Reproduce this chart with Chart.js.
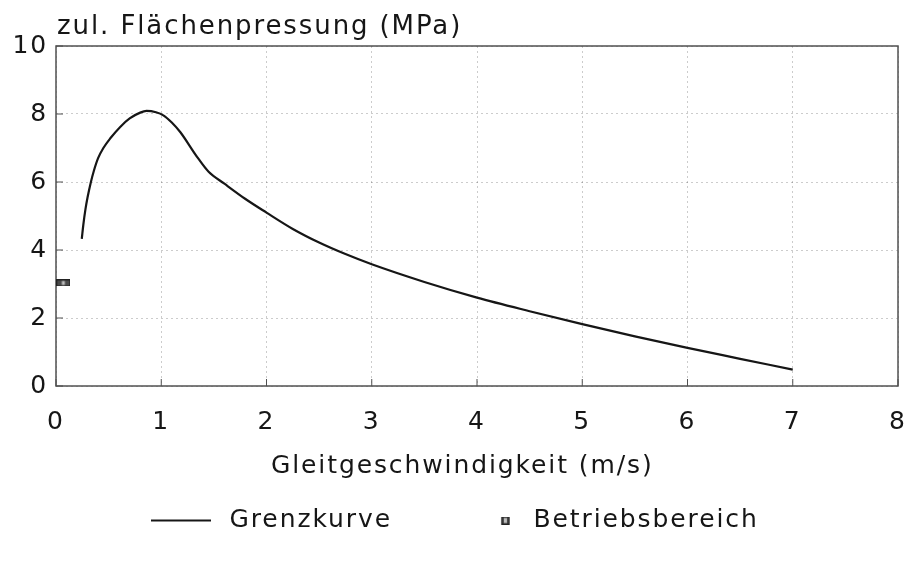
<!DOCTYPE html>
<html lang="de">
<head>
<meta charset="UTF-8">
<title>Grenzkurve</title>
<style>
  html, body { margin: 0; padding: 0; background: #fff; }
  #wrap { width: 912px; height: 562px; }
</style>
<script src="https://cdn.jsdelivr.net/npm/chart.js"></script>
</head>
<body>
<div id="wrap"><canvas id="chart" width="912" height="562"></canvas></div>
<script>
// Grenzkurve: zul. Flächenpressung über Gleitgeschwindigkeit
const speed = [0.245, 0.26, 0.28, 0.30, 0.33, 0.36, 0.40, 0.45, 0.52, 0.61, 0.70, 0.80, 0.86, 0.95, 1.02, 1.1, 1.18, 1.34, 1.45, 1.6, 1.8, 2.0, 2.25, 2.5, 2.75, 3.0, 3.5, 4.0, 4.5, 5.0, 5.5, 6.0, 6.5, 7.0];
const pressure = [4.33, 4.75, 5.2, 5.55, 5.98, 6.33, 6.7, 7.0, 7.3, 7.62, 7.87, 8.04, 8.09, 8.05, 7.96, 7.75, 7.47, 6.74, 6.3, 5.95, 5.5, 5.1, 4.62, 4.22, 3.88, 3.58, 3.06, 2.6, 2.2, 1.82, 1.46, 1.12, 0.8, 0.48];
// Betriebsbereich
const opSpeed = [0.07];
const opPressure = [3.03];

const xTicks = [0, 1, 2, 3, 4, 5, 6, 7, 8];
const yTicks = [0, 2, 4, 6, 8, 10];

const FONT = "'DejaVu Sans', 'Liberation Sans', sans-serif";
const INK = '#161616';
const SPACING = '1.9px';
const SLOT = 117;

// small marker pictures
function makeLineIcon() {
    const c = document.createElement('canvas');
    c.width = SLOT; c.height = 4;
    const g = c.getContext('2d');
    g.fillStyle = INK;
    g.fillRect(SLOT - 66, 1, 60, 2);
    return c;
}
function makeBox(w, h, padLeft, total) {
    const c = document.createElement('canvas');
    c.width = total || w; c.height = h;
    const g = c.getContext('2d');
    const x0 = padLeft || 0;
    g.fillStyle = '#4a4a4a';
    g.fillRect(x0, 0, w, h);
    g.fillStyle = '#bdbdbd';
    g.fillRect(x0 + w / 2 - 1.5, 1.5, 3, h - 3);
    g.strokeStyle = '#222';
    g.lineWidth = 1;
    g.strokeRect(x0 + 0.5, 0.5, w - 1, h - 1);
    return c;
}
const lineIcon = makeLineIcon();
const boxLegend = makeBox(8, 8, SLOT - 19.5, SLOT);
const boxPoint = makeBox(14, 7);

const frame = {
    id: 'frame',
    beforeLayout(chart) { chart.ctx.letterSpacing = SPACING; },
    beforeDraw(chart) { chart.ctx.letterSpacing = SPACING; },
    beforeDatasetsDraw(chart) {
        const {ctx, chartArea: a, scales} = chart;
        ctx.save();
        ctx.strokeStyle = '#505050';
        ctx.lineWidth = 1.5;
        ctx.strokeRect(a.left, a.top, a.right - a.left, a.bottom - a.top);
        // short inward ticks
        ctx.lineWidth = 1;
        xTicks.forEach(v => {
            const x = scales.x.getPixelForValue(v);
            ctx.beginPath(); ctx.moveTo(x, a.bottom); ctx.lineTo(x, a.bottom - 7); ctx.stroke();
        });
        yTicks.forEach(v => {
            const y = scales.y.getPixelForValue(v);
            ctx.beginPath(); ctx.moveTo(a.left, y); ctx.lineTo(a.left + 7, y); ctx.stroke();
        });
        ctx.restore();
    },
    afterDraw(chart) {
        const {ctx, chartArea: a} = chart;
        ctx.save();
        ctx.fillStyle = INK;
        ctx.font = '26px ' + FONT;
        ctx.textBaseline = 'alphabetic';
        ctx.fillText('zul. Flächenpressung (MPa)', a.left + 1, a.top - 12);
        ctx.restore();
    }
};

new Chart(document.getElementById('chart'), {
    type: 'scatter',
    data: {
        datasets: [
            {
                label: 'Grenzkurve',
                data: speed.map((s, i) => ({x: s, y: pressure[i]})),
                showLine: true,
                borderColor: INK,
                borderWidth: 2.2,
                pointRadius: 0,
                cubicInterpolationMode: 'monotone'
            },
            {
                label: 'Betriebsbereich',
                data: opSpeed.map((s, i) => ({x: s, y: opPressure[i]})),
                showLine: false,
                pointStyle: boxPoint,
                pointRadius: 5
            }
        ]
    },
    options: {
        responsive: false,
        animation: false,
        layout: { padding: { top: 46, right: 14, left: 0, bottom: 19 } },
        plugins: {
            tooltip: { enabled: false },
            legend: {
                position: 'bottom',
                labels: {
                    usePointStyle: true,
                    pointStyleWidth: SLOT,
                    padding: 12,
                    color: INK,
                    font: { family: FONT, size: 25 },
                    generateLabels(chart) {
                        return chart.data.datasets.map((d, i) => ({
                            // trailing blanks keep the row where the original sits
                            text: i === 0 ? d.label : d.label + '    ',
                            pointStyle: i === 0 ? lineIcon : boxLegend,
                            fontColor: INK,
                            lineWidth: 0,
                            datasetIndex: i
                        }));
                    }
                }
            }
        },
        scales: {
            x: {
                type: 'linear',
                min: 0, max: 8,
                afterBuildTicks(s) { s.ticks = xTicks.map(v => ({value: v})); },
                afterFit(s) { s.height = 110; s.paddingRight = 14; s.paddingLeft = 0; },
                border: { display: false, dash: [2, 3] },
                grid: { color: 'rgba(0,0,0,0.2)', tickLength: 0, drawTicks: false },
                ticks: { padding: 21, color: INK, font: { family: FONT, size: 25 } },
                title: {
                    display: true,
                    text: 'Gleitgeschwindigkeit (m/s)   ',
                    color: INK,
                    font: { family: FONT, size: 25 },
                    padding: { top: 0, bottom: 15 }
                }
            },
            y: {
                type: 'linear',
                min: 0, max: 10,
                afterBuildTicks(s) { s.ticks = yTicks.map(v => ({value: v})); },
                afterFit(s) { s.width = 56; },
                border: { display: false, dash: [2, 3] },
                grid: { color: 'rgba(0,0,0,0.2)', tickLength: 0, drawTicks: false },
                ticks: { padding: 8, color: INK, font: { family: FONT, size: 25 } }
            }
        }
    },
    plugins: [frame]
});
</script>
</body>
</html>
